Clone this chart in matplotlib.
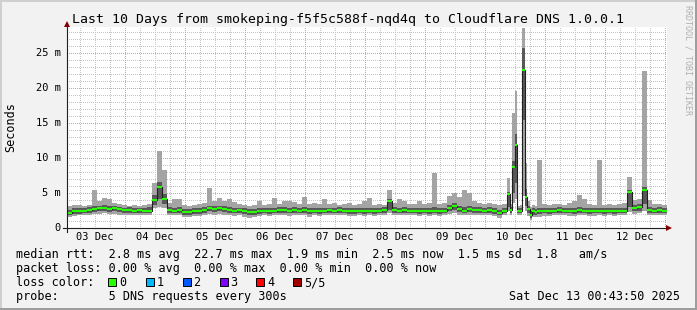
import matplotlib
matplotlib.use('Agg')
import matplotlib.pyplot as plt
import matplotlib.transforms as mtransforms
from matplotlib.patches import Rectangle
from matplotlib.lines import Line2D
import numpy as np

W, H = 697, 310

# hours since Sat Dec 13 00:43:50 minus 10 days; start of every consolidated step
t_start = list(range(0, 176, 2)) + list(range(176, 188)) + list(range(188, 240, 2))
t_end = 240

# rtt in ms for the 5 pings of each step (sorted: min, 2nd, median, 4th, max)
rtt_min = [1.6, 1.7, 1.8, 1.8, 1.9, 2.0, 2.0, 2.1, 2.0, 2.0,
           1.9, 1.9, 1.8, 1.8, 1.9, 1.8, 1.8, 2.9, 3.0, 2.8,
           1.8, 1.8, 1.9, 1.6, 1.6, 1.7, 1.7, 1.8, 2.0, 1.9,
           2.0, 1.9, 1.8, 1.7, 1.8, 1.6, 1.5, 1.6, 1.7, 1.8,
           1.7, 1.8, 1.8, 1.8, 1.7, 1.8, 1.8, 1.8, 1.6, 1.8,
           1.7, 1.8, 1.8, 1.8, 1.9, 1.8, 1.7, 1.7, 1.8, 1.7,
           1.8, 1.7, 1.8, 1.9, 2.1, 1.9, 1.8, 1.9, 1.8, 1.8,
           1.7, 1.8, 1.7, 1.8, 1.7, 1.8, 2.0, 2.2, 1.9, 1.8,
           1.9, 1.9, 1.9, 1.8, 1.9, 1.7, 1.5, 1.8,
           2.4, 1.9, 3.6, 4.2, 1.8, 1.8, 4.6, 2.5, 1.7, 1.1, 1.6, 1.6,
           1.6, 1.7, 1.7, 1.8, 1.8, 1.8, 1.7, 1.7, 1.8, 1.8,
           1.7, 1.7, 1.8, 1.7, 1.8, 1.7, 1.8, 1.8, 2.3, 2.0,
           2.1, 2.5, 1.8, 1.8, 1.8, 1.8]
rtt_lo = [1.8, 2.0, 2.0, 2.1, 2.2, 2.3, 2.4, 2.4, 2.3, 2.4,
          2.3, 2.2, 2.2, 2.1, 2.2, 2.1, 2.1, 3.3, 4.2, 3.4,
          2.2, 2.1, 2.2, 1.9, 1.9, 2.0, 2.0, 2.2, 2.4, 2.3,
          2.4, 2.3, 2.2, 2.1, 2.2, 2.0, 1.9, 1.9, 2.0, 2.1,
          2.0, 2.1, 2.2, 2.2, 2.1, 2.2, 2.1, 2.2, 2.0, 2.1,
          2.0, 2.1, 2.2, 2.1, 2.2, 2.1, 2.0, 2.0, 2.1, 2.0,
          2.1, 2.0, 2.1, 2.2, 2.6, 2.2, 2.1, 2.2, 2.1, 2.1,
          2.0, 2.1, 2.0, 2.1, 2.0, 2.1, 2.4, 2.6, 2.3, 2.1,
          2.3, 2.2, 2.2, 2.1, 2.2, 2.0, 1.8, 2.1,
          3.0, 2.2, 5.0, 6.5, 2.1, 2.1, 15.4, 3.2, 2.2, 1.5, 1.9, 1.9,
          2.0, 2.1, 2.0, 2.1, 2.2, 2.1, 2.1, 2.0, 2.2, 2.1,
          2.0, 2.1, 2.1, 2.0, 2.1, 2.0, 2.1, 2.1, 3.0, 2.4,
          2.5, 3.4, 2.2, 2.1, 2.2, 2.1]
rtt_med = [2.1, 2.4, 2.4, 2.5, 2.6, 2.7, 2.8, 2.8, 2.7, 2.8,
           2.7, 2.6, 2.6, 2.5, 2.6, 2.5, 2.5, 4.0, 5.9, 4.1,
           2.6, 2.5, 2.6, 2.3, 2.3, 2.4, 2.4, 2.6, 2.8, 2.7,
           2.8, 2.7, 2.6, 2.5, 2.6, 2.4, 2.3, 2.3, 2.4, 2.5,
           2.4, 2.5, 2.6, 2.6, 2.5, 2.6, 2.5, 2.6, 2.4, 2.5,
           2.4, 2.5, 2.6, 2.5, 2.6, 2.5, 2.4, 2.4, 2.5, 2.4,
           2.5, 2.4, 2.5, 2.6, 3.9, 2.6, 2.5, 2.6, 2.5, 2.5,
           2.4, 2.5, 2.4, 2.5, 2.4, 2.5, 2.8, 3.1, 2.7, 2.5,
           2.7, 2.6, 2.6, 2.5, 2.6, 2.4, 2.2, 2.5,
           4.8, 2.6, 8.7, 11.8, 2.5, 2.5, 22.6, 4.5, 2.7, 1.9, 2.4, 2.3,
           2.4, 2.5, 2.4, 2.5, 2.6, 2.5, 2.5, 2.4, 2.6, 2.5,
           2.4, 2.5, 2.5, 2.4, 2.5, 2.4, 2.5, 2.5, 5.2, 2.9,
           3.0, 5.4, 2.6, 2.5, 2.6, 2.5]
rtt_hi = [2.6, 2.8, 2.8, 2.9, 3.0, 3.1, 3.2, 3.3, 3.1, 3.1,
          3.0, 2.9, 3.0, 2.9, 2.9, 2.9, 3.0, 4.7, 6.6, 4.9,
          3.0, 2.9, 3.0, 2.7, 2.7, 2.8, 2.8, 3.0, 3.2, 3.1,
          3.2, 3.1, 3.0, 2.9, 2.9, 2.8, 2.7, 2.7, 2.8, 2.9,
          2.8, 2.9, 3.0, 3.0, 2.9, 3.0, 2.9, 3.0, 2.8, 2.9,
          2.8, 2.9, 2.9, 2.9, 3.0, 2.9, 2.8, 2.8, 2.9, 2.8,
          2.9, 2.8, 2.9, 3.0, 4.2, 3.0, 2.9, 3.0, 2.9, 2.9,
          2.8, 2.9, 2.8, 3.0, 2.8, 2.9, 3.3, 3.6, 3.2, 3.0,
          3.1, 3.0, 3.0, 2.9, 3.0, 2.8, 2.6, 2.9,
          5.1, 3.0, 9.6, 13.5, 2.9, 2.9, 25.7, 5.6, 3.2, 2.5, 2.8, 2.7,
          2.8, 2.9, 2.8, 2.9, 3.0, 2.9, 2.9, 2.8, 3.0, 2.9,
          2.8, 2.9, 2.9, 2.8, 2.9, 2.8, 2.9, 2.9, 5.5, 3.3,
          3.4, 5.8, 3.0, 2.9, 3.0, 2.9]
rtt_max = [3.2, 3.3, 3.3, 3.2, 3.3, 5.4, 3.8, 4.3, 4.2, 3.6,
           3.4, 3.3, 3.2, 3.3, 3.2, 3.3, 3.5, 6.5, 11.0, 8.3,
           3.6, 4.1, 4.1, 3.3, 3.2, 3.3, 3.4, 3.6, 5.7, 3.8,
           4.3, 3.8, 4.2, 3.7, 3.4, 3.3, 3.2, 3.3, 3.8, 3.3,
           3.4, 4.3, 3.5, 3.9, 3.8, 3.7, 3.4, 4.4, 3.5, 3.6,
           3.4, 4.1, 3.4, 3.6, 3.3, 3.4, 3.6, 3.3, 3.5, 3.9,
           4.3, 3.3, 3.4, 3.3, 5.4, 3.6, 4.1, 3.9, 3.5, 3.4,
           3.8, 3.4, 3.6, 7.8, 3.5, 3.6, 4.6, 5.0, 4.4, 5.4,
           5.0, 3.8, 3.6, 3.4, 3.6, 3.4, 3.3, 3.4,
           7.1, 3.4, 16.4, 19.6, 3.2, 3.3, 28.6, 9.3, 3.8, 3.0, 3.3, 3.2,
           9.7, 3.4, 3.3, 3.4, 3.5, 3.3, 3.6, 3.9, 4.7, 4.2,
           3.4, 3.3, 9.7, 3.3, 3.4, 3.3, 3.4, 3.6, 7.3, 4.0,
           4.2, 22.5, 4.0, 3.4, 3.5, 3.3]

day_labels = ['03 Dec', '04 Dec', '05 Dec', '06 Dec', '07 Dec',
              '08 Dec', '09 Dec', '10 Dec', '11 Dec', '12 Dec']
y_ticks = [0, 5, 10, 15, 20, 25]
y_labels = ['0', '5 m', '10 m', '15 m', '20 m', '25 m']

title = 'Last 10 Days from smokeping-f5f5c588f-nqd4q to Cloudflare DNS 1.0.0.1'
line_rtt = 'median rtt:  2.8 ms avg  22.7 ms max  1.9 ms min  2.5 ms now  1.5 ms sd  1.8   am/s'
line_loss = 'packet loss: 0.00 % avg  0.00 % max  0.00 % min  0.00 % now'
line_probe = 'probe:       5 DNS requests every 300s'
stamp = 'Sat Dec 13 00:43:50 2025'
loss_names = ['0', '1', '2', '3', '4', '5/5']
loss_colors = ['#26ff00', '#00b8ff', '#0059ff', '#7e00ff', '#ff0000', '#a00000']

mono = 'DejaVu Sans Mono'


def fx(x):
    return x / W


def fy(y):
    return 1 - y / H


fig = plt.figure(figsize=(W / 100, H / 100), dpi=100, facecolor='#f2f2f2')

# rrdtool shade frame
fig.add_artist(Rectangle((0, fy(2)), 1, 2 / H, transform=fig.transFigure, color='#cfcfcf', lw=0))
fig.add_artist(Rectangle((0, 0), 2 / W, 1, transform=fig.transFigure, color='#cfcfcf', lw=0))
fig.add_artist(Rectangle((0, 0), 1, 2 / H, transform=fig.transFigure, color='#9e9e9e', lw=0))
fig.add_artist(Rectangle((1 - 2 / W, 0), 2 / W, 1, transform=fig.transFigure, color='#9e9e9e', lw=0))

pw, ph = 600, 201
ymax = ph / 7
ax = fig.add_axes([fx(67), fy(228), pw / W, ph / H])
ax.set_facecolor('white')
for s in ax.spines.values():
    s.set_visible(False)

# dotted grid painted pixel by pixel so the dots stay crisp
minor_rgba = (0.78, 0.78, 0.78, 1.0)
major_rgba = (0.93, 0.58, 0.58, 1.0)
grid = np.zeros((ph, pw, 4))
midnight0 = -(43 * 60 + 50) / 3600
for v in range(1, 29):
    r = int(round((ymax - v) * ph / ymax))
    if 0 <= r < ph:
        grid[r, 0::2] = major_rgba if v % 5 == 0 else minor_rgba
for k in range(0, 45):
    h = midnight0 + 6 * k
    if 0 < h < 240:
        c = int(round(h * pw / 240))
        grid[1::2, c] = major_rgba if k % 4 == 0 else minor_rgba
ax.imshow(grid, extent=(0, 240, 0, ymax), aspect='auto', interpolation='nearest', zorder=0)
ax.set_xlim(0, 240)
ax.set_ylim(0, ymax)
ax.set_xticks([])
ax.set_yticks([])

edges = np.append(t_start, t_end)


def ext(vals):
    return np.append(vals, vals[-1])


ax.fill_between(edges, ext(rtt_min), ext(rtt_max), step='post', color='#a4a4a4', lw=0, zorder=2)
ax.fill_between(edges, ext(rtt_lo), ext(rtt_hi), step='post', color='#585858', lw=0, zorder=3)
ax.step(edges, ext(rtt_med), where='post', color='#202020', lw=0.8, zorder=4)
ax.hlines(rtt_med, t_start, edges[1:], color=loss_colors[0], lw=1.5, zorder=5)

# axis lines with arrows
fig.add_artist(Line2D([fx(67), fx(67)], [fy(232), fy(24)], color='#1f1f1f', lw=0.8))
fig.add_artist(Line2D([fx(63), fx(668)], [fy(228), fy(228)], color='#1f1f1f', lw=0.8))
fig.add_artist(Line2D([fx(67)], [fy(24)], marker='^', ms=4, color='#800000', mew=0))
fig.add_artist(Line2D([fx(669)], [fy(228)], marker='>', ms=4, color='#800000', mew=0))

xtrans = mtransforms.blended_transform_factory(ax.transData, fig.transFigure)
for k, lab in enumerate(day_labels):
    ax.text(midnight0 + 12 + 24 * k, fy(240.5), lab, transform=xtrans, ha='center',
            va='baseline', family=mono, fontsize=7.5, color='black', clip_on=False)
ytrans = mtransforms.blended_transform_factory(fig.transFigure, ax.transData)
for v, lab in zip(y_ticks, y_labels):
    ax.text(fx(60.5), v, lab, transform=ytrans, ha='right', va='center',
            family=mono, fontsize=7.5, color='black', clip_on=False)

fig.text(fx(348.5), fy(23.5), title, ha='center', va='baseline', family=mono, fontsize=9.5)
fig.text(fx(11), fy(127.5), 'Seconds', rotation=90, ha='center', va='center', family=mono, fontsize=8.5)
fig.text(fx(688), fy(60), 'RRDTOOL / TOBI OETIKER', rotation=-90, ha='center', va='center',
         family=mono, fontsize=6, color='#b0b0b0')

fig.text(fx(15.5), fy(258), line_rtt, ha='left', va='baseline', family=mono, fontsize=8.5)
fig.text(fx(15.5), fy(272), line_loss, ha='left', va='baseline', family=mono, fontsize=8.5)
fig.text(fx(15.5), fy(286), 'loss color:', ha='left', va='baseline', family=mono, fontsize=8.5)
fig.text(fx(15.5), fy(300), line_probe, ha='left', va='baseline', family=mono, fontsize=8.5)
fig.text(fx(680), fy(300), stamp, ha='right', va='baseline', family=mono, fontsize=8.5)

box_left = [108, 145.5, 182.5, 219.5, 256, 293]
for bx, name, col in zip(box_left, loss_names, loss_colors):
    fig.add_artist(Rectangle((fx(bx), fy(286)), 8 / W, 8 / H, transform=fig.transFigure,
                             facecolor=col, edgecolor='black', lw=0.7))
    fig.text(fx(bx + 11), fy(286), name, ha='left', va='baseline', family=mono, fontsize=8.5)

fig.savefig('out.png', dpi=100, facecolor=fig.get_facecolor())
